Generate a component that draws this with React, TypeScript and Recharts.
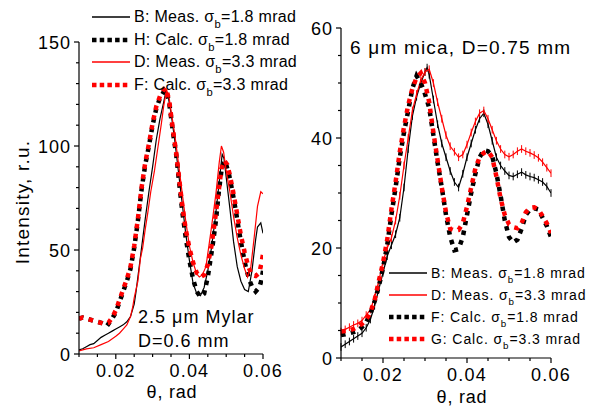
import { LineChart, Line, XAxis, YAxis, Legend, ErrorBar } from "recharts";

const FONT = "'Liberation Sans', Arial, sans-serif";

// theta (rad), intensity (r.u.) -- left panel, 2.5 um Mylar
const LEFT_B_MEAS: [number, number][] = [
  [0.01, 2], [0.011, 2.5], [0.012, 3.5], [0.013, 4.5], [0.014, 5], [0.015, 6.5], [0.016, 8], [0.017, 9],
  [0.018, 10], [0.019, 11], [0.02, 12], [0.021, 13], [0.022, 14], [0.023, 15.5], [0.024, 18], [0.025, 24],
  [0.0255, 30], [0.026, 37], [0.0265, 44], [0.027, 51], [0.0275, 58], [0.028, 65], [0.029, 78], [0.03, 90],
  [0.031, 103], [0.032, 113], [0.033, 121], [0.0336, 126], [0.0342, 124], [0.035, 116], [0.036, 103],
  [0.037, 88], [0.038, 73], [0.039, 58], [0.04, 45], [0.041, 34], [0.042, 29], [0.043, 28], [0.044, 32],
  [0.045, 40], [0.046, 51], [0.047, 65], [0.048, 81], [0.0489, 96], [0.0494, 94], [0.05, 85], [0.051, 70],
  [0.052, 54], [0.053, 42], [0.054, 35], [0.055, 31], [0.056, 30], [0.057, 40], [0.058, 55], [0.0585, 61],
  [0.0594, 63], [0.06, 58],
];
const LEFT_H_CALC: [number, number][] = [
  [0.01, 17], [0.011, 17.5], [0.012, 17], [0.013, 16.5], [0.014, 16], [0.015, 15.5], [0.016, 15], [0.017, 14],
  [0.0176, 13.5], [0.018, 14.5], [0.019, 17], [0.02, 20], [0.021, 25], [0.022, 30], [0.023, 35], [0.024, 41],
  [0.025, 51], [0.026, 64], [0.027, 79], [0.028, 91], [0.029, 100], [0.03, 110], [0.031, 118], [0.032, 123],
  [0.033, 126], [0.0336, 127], [0.0345, 121], [0.0355, 107], [0.0364, 96], [0.0373, 81], [0.0381, 68],
  [0.039, 56], [0.04, 45], [0.041, 36], [0.042, 30], [0.043, 27.5], [0.044, 29], [0.045, 37], [0.0463, 52],
  [0.0472, 64], [0.048, 78], [0.0487, 88], [0.0495, 93], [0.05, 91], [0.0508, 86], [0.0517, 78], [0.0526, 69],
  [0.0535, 59], [0.0544, 50], [0.0553, 42], [0.0562, 36], [0.0571, 32], [0.058, 30], [0.059, 32],
  [0.0595, 35], [0.06, 40],
];
const LEFT_D_MEAS: [number, number][] = [
  [0.01, 1.5], [0.012, 2.5], [0.014, 3], [0.016, 4.5], [0.018, 6], [0.02, 8.5], [0.021, 10], [0.022, 12],
  [0.023, 14], [0.024, 18], [0.0246, 22.6], [0.025, 27], [0.026, 35], [0.0267, 46], [0.0273, 51], [0.028, 60],
  [0.0287, 68], [0.0295, 78], [0.0305, 88], [0.0315, 100], [0.0324, 111], [0.033, 119], [0.0338, 127],
  [0.0345, 123], [0.035, 117], [0.036, 106], [0.037, 92], [0.038, 78], [0.039, 64], [0.04, 52], [0.041, 44],
  [0.042, 38.5], [0.0427, 37], [0.0435, 38], [0.0445, 42], [0.0459, 59.6], [0.0472, 77], [0.0481, 92],
  [0.0487, 100], [0.0493, 97], [0.05, 88], [0.051, 78], [0.052, 66], [0.053, 56], [0.054, 47.5], [0.055, 41],
  [0.0558, 37], [0.0567, 42], [0.0576, 56], [0.0585, 71], [0.0594, 78], [0.06, 77],
];
const LEFT_F_CALC: [number, number][] = [
  [0.01, 17], [0.011, 17.5], [0.012, 17], [0.013, 16.5], [0.014, 16], [0.015, 15.5], [0.016, 15], [0.017, 14.5],
  [0.018, 15], [0.019, 17.5], [0.02, 21], [0.021, 26], [0.022, 31], [0.023, 36], [0.024, 42], [0.025, 52],
  [0.026, 65], [0.027, 80], [0.028, 92], [0.029, 101], [0.03, 111], [0.031, 119], [0.032, 124], [0.033, 127],
  [0.0336, 128], [0.0345, 122], [0.0355, 108], [0.0364, 97], [0.0373, 83], [0.0381, 71], [0.039, 60],
  [0.04, 51], [0.041, 44], [0.042, 39], [0.043, 37], [0.044, 38], [0.045, 43], [0.046, 52], [0.047, 65],
  [0.048, 79], [0.0487, 89], [0.0495, 93], [0.0503, 91], [0.051, 86], [0.052, 77], [0.053, 67], [0.054, 57],
  [0.055, 49], [0.056, 42], [0.057, 38], [0.058, 37.5], [0.059, 39], [0.0595, 43], [0.06, 48],
];

// right panel, 6 um mica
const RIGHT_B_MEAS: [number, number][] = [
  [0.01, 2], [0.011, 2.5], [0.012, 3], [0.013, 3.5], [0.014, 4], [0.015, 4.5], [0.016, 5.5], [0.017, 7],
  [0.018, 9.5], [0.019, 12.5], [0.02, 15.5], [0.021, 18.5], [0.022, 20.5], [0.023, 22.5], [0.024, 25.5],
  [0.025, 31], [0.026, 38], [0.027, 44], [0.028, 47.5], [0.029, 50], [0.03, 52], [0.0305, 52.8], [0.031, 51.5],
  [0.032, 47], [0.033, 42.5], [0.034, 39], [0.035, 36.5], [0.036, 34], [0.037, 32], [0.038, 31], [0.039, 33.5],
  [0.04, 36.5], [0.041, 39], [0.042, 41.5], [0.043, 43.5], [0.044, 44.5], [0.045, 42.5], [0.046, 39.5],
  [0.047, 36.5], [0.048, 35], [0.049, 34], [0.05, 33.2], [0.051, 33], [0.052, 33.4], [0.053, 33.8],
  [0.054, 33.3], [0.055, 33], [0.056, 32.8], [0.057, 32.4], [0.058, 32], [0.059, 31.2], [0.06, 30],
];
const RIGHT_D_MEAS: [number, number][] = [
  [0.01, 4.8], [0.011, 5.2], [0.012, 5.6], [0.013, 6], [0.014, 6.3], [0.015, 6.8], [0.016, 7.8], [0.017, 8.8],
  [0.018, 11], [0.019, 14], [0.02, 17.5], [0.021, 20], [0.022, 21.8], [0.023, 25], [0.024, 29.5], [0.025, 35],
  [0.026, 40], [0.027, 45], [0.028, 48], [0.029, 50.5], [0.03, 52], [0.031, 52.5], [0.032, 50], [0.033, 46.5],
  [0.034, 43.5], [0.035, 40.5], [0.036, 38.5], [0.037, 37.5], [0.038, 36.5], [0.039, 37], [0.04, 38.8],
  [0.041, 41], [0.042, 43], [0.043, 44.5], [0.044, 45], [0.045, 43.5], [0.046, 41.5], [0.047, 39.5],
  [0.048, 38], [0.049, 37], [0.05, 36.6], [0.051, 37], [0.052, 37.6], [0.053, 38], [0.054, 37.6],
  [0.055, 37.3], [0.056, 36.9], [0.057, 36.4], [0.058, 35.6], [0.059, 34.6], [0.06, 33.6],
];
const RIGHT_F_CALC: [number, number][] = [
  [0.01, 4.2], [0.011, 4.3], [0.012, 4.5], [0.013, 4.7], [0.014, 5], [0.015, 5.6], [0.016, 6.5], [0.017, 8],
  [0.018, 10.3], [0.019, 13], [0.02, 16.3], [0.021, 20.5], [0.022, 26], [0.023, 31], [0.024, 36.5], [0.025, 41],
  [0.026, 45], [0.027, 49], [0.028, 51.3], [0.029, 50], [0.03, 48], [0.031, 45.5], [0.032, 40.5], [0.033, 35.5],
  [0.034, 31], [0.035, 26], [0.036, 22], [0.037, 19.6], [0.038, 19.8], [0.039, 22], [0.04, 26], [0.041, 30],
  [0.042, 33.5], [0.043, 36.5], [0.044, 37.8], [0.045, 37.6], [0.046, 36.7], [0.047, 33.6], [0.048, 29.5],
  [0.049, 25], [0.05, 22], [0.051, 21], [0.052, 21.5], [0.053, 23.5], [0.054, 26], [0.055, 27], [0.056, 27.2],
  [0.057, 27], [0.058, 25.5], [0.059, 24], [0.06, 22],
];
const RIGHT_G_CALC: [number, number][] = [
  [0.01, 4.8], [0.011, 4.9], [0.012, 5], [0.013, 5.3], [0.014, 5.7], [0.015, 6.2], [0.016, 7], [0.017, 8.3],
  [0.018, 10.5], [0.019, 14], [0.02, 17.3], [0.021, 21.5], [0.022, 27], [0.023, 32], [0.024, 37.5], [0.025, 42],
  [0.026, 46], [0.027, 49], [0.028, 51], [0.029, 51.8], [0.03, 50], [0.031, 46.5], [0.032, 41], [0.033, 36],
  [0.034, 31], [0.035, 26.5], [0.036, 23.5], [0.037, 23.2], [0.038, 23.3], [0.039, 24.5], [0.04, 27.5],
  [0.041, 31], [0.042, 34.5], [0.043, 36.5], [0.044, 37.3], [0.045, 37.6], [0.046, 36.5], [0.047, 33],
  [0.048, 29], [0.049, 26], [0.05, 24.3], [0.051, 23.8], [0.052, 23.6], [0.053, 24.5], [0.054, 26.5],
  [0.055, 27.3], [0.056, 27.4], [0.057, 27], [0.058, 25.8], [0.059, 24.5], [0.06, 22.7],
];

const X_TICKS = [0.01, 0.015, 0.02, 0.025, 0.03, 0.035, 0.04, 0.045, 0.05, 0.055, 0.06];
const X_LABELS = [0.02, 0.04, 0.06];
const LEFT_Y_TICKS = [0, 10, 20, 30, 40, 50, 60, 70, 80, 90, 100, 110, 120, 130, 140, 150];
const LEFT_Y_LABELS = [0, 50, 100, 150];
const RIGHT_Y_TICKS = [0, 5, 10, 15, 20, 25, 30, 35, 40, 45, 50, 55, 60];
const RIGHT_Y_LABELS = [0, 20, 40, 60];

const MEAS_ERR = 0.7; // half height of the little error bars on the mica curves

type Series = { key: string; data: [number, number][]; color: string; dotted: boolean; pre: string; post: string };

const LEFT_SERIES: Series[] = [
  { key: "B", data: LEFT_B_MEAS, color: "#000", dotted: false, pre: "B: Meas. σ", post: "=1.8 mrad" },
  { key: "H", data: LEFT_H_CALC, color: "#000", dotted: true, pre: "H: Calc. σ", post: "=1.8 mrad" },
  { key: "D", data: LEFT_D_MEAS, color: "#f00", dotted: false, pre: "D: Meas. σ", post: "=3.3 mrad" },
  { key: "F", data: LEFT_F_CALC, color: "#f00", dotted: true, pre: "F: Calc. σ", post: "=3.3 mrad" },
];
const RIGHT_SERIES: Series[] = [
  { key: "B", data: RIGHT_B_MEAS, color: "#000", dotted: false, pre: "B: Meas. σ", post: "=1.8 mrad" },
  { key: "D", data: RIGHT_D_MEAS, color: "#f00", dotted: false, pre: "D: Meas. σ", post: "=3.3 mrad" },
  { key: "F", data: RIGHT_F_CALC, color: "#000", dotted: true, pre: "F: Calc. σ", post: "=1.8 mrad" },
  { key: "G", data: RIGHT_G_CALC, color: "#f00", dotted: true, pre: "G: Calc. σ", post: "=3.3 mrad" },
];

const toPoints = (arr: [number, number][]) => arr.map(([t, v]) => ({ t, v }));
const has = (list: number[], v: number) => list.some((m) => Math.abs(m - v) < 1e-9);

const makeXTick = (labelDy: number) => (props: any) => {
  const { x, y, payload } = props;
  const major = has(X_LABELS, payload.value);
  return (
    <g>
      <line x1={x} x2={x} y1={y} y2={y + (major ? 5 : 3)} stroke="#000" strokeWidth={1.2} />
      {major && (
        <text x={x} y={y + labelDy} textAnchor="middle" fontFamily={FONT} fontSize={18} letterSpacing={1.2} fill="#000">
          {payload.value.toFixed(2)}
        </text>
      )}
    </g>
  );
};

const makeYTick = (labels: number[]) => (props: any) => {
  const { x, y, payload } = props;
  const major = has(labels, payload.value);
  return (
    <g>
      <line x1={x} x2={x - (major ? 5 : 3)} y1={y} y2={y} stroke="#000" strokeWidth={1.2} />
      {major && (
        <text x={x - 8} y={y + 6.5} textAnchor="end" fontFamily={FONT} fontSize={18} letterSpacing={1} fill="#000">
          {payload.value}
        </text>
      )}
    </g>
  );
};

function LegendBox({ items, fontSize, spacing, rowH, sample }: { items: Series[]; fontSize: number; spacing: number; rowH: number; sample: number }) {
  return (
    <div style={{ fontFamily: FONT, fontSize, letterSpacing: spacing, color: "#000" }}>
      {items.map((s) => (
        <div key={s.key} style={{ display: "flex", alignItems: "center", height: rowH, whiteSpace: "nowrap" }}>
          <svg width={sample + 4} height={10} style={{ flex: "none" }}>
            <line
              x1={0}
              x2={sample}
              y1={5}
              y2={5}
              stroke={s.color}
              strokeWidth={s.dotted ? 4.5 : 1.3}
              strokeDasharray={s.dotted ? "4.5 3.2" : undefined}
            />
          </svg>
          <span>
            {s.pre}
            <span style={{ fontSize: "0.7em", position: "relative", top: "0.55em" }}>b</span>
            {s.post}
          </span>
        </div>
      ))}
    </div>
  );
}

function Txt({ x, y, size, spacing = 0, anchor = "middle", rotate = false, children }: any) {
  const tx = anchor === "middle" ? "-50%" : "0";
  return (
    <div
      style={{
        position: "absolute",
        left: x,
        top: y,
        transform: `translate(${tx}, -50%)${rotate ? " rotate(-90deg)" : ""}`,
        transformOrigin: rotate ? "50% 50%" : undefined,
        fontFamily: FONT,
        fontSize: size,
        letterSpacing: spacing,
        lineHeight: 1,
        whiteSpace: "nowrap",
        color: "#000",
      }}
    >
      {children}
    </div>
  );
}

function renderLines(series: Series[], withErr: boolean) {
  return series.map((s) => (
    <Line
      key={s.key}
      data={toPoints(s.data)}
      dataKey="v"
      name={s.key}
      type="linear"
      stroke={s.color}
      strokeWidth={s.dotted ? 4.5 : 1.2}
      strokeDasharray={s.dotted ? "4.5 5.5" : undefined}
      dot={false}
      activeDot={false}
      isAnimationActive={false}
    >
      {withErr && !s.dotted && (
        <ErrorBar dataKey={() => MEAS_ERR} width={0} stroke={s.color} strokeWidth={1} direction="y" />
      )}
    </Line>
  ));
}

export default function App() {
  return (
    <div style={{ position: "absolute", left: 0, top: 0, width: 603, height: 413, background: "#fff", overflow: "hidden" }}>
      <div style={{ position: "absolute", left: 0, top: 0 }}>
        <LineChart width={300} height={413} margin={{ top: 42, right: 37, bottom: 0, left: 0 }}>
          <XAxis
            dataKey="t"
            type="number"
            domain={[0.01, 0.06]}
            ticks={X_TICKS}
            interval={0}
            height={59}
            tickSize={0}
            tickMargin={0}
            tickLine={false}
            axisLine={{ stroke: "#000", strokeWidth: 1.2 }}
            tick={makeXTick(23)}
            allowDataOverflow
          />
          <YAxis
            type="number"
            domain={[0, 150]}
            ticks={LEFT_Y_TICKS}
            interval={0}
            width={79}
            tickSize={0}
            tickMargin={0}
            tickLine={false}
            axisLine={{ stroke: "#000", strokeWidth: 1.2 }}
            tick={makeYTick(LEFT_Y_LABELS)}
            allowDataOverflow
          />
          <Legend
            layout="horizontal"
            verticalAlign="middle"
            align="center"
            wrapperStyle={{ left: 92, top: 6, width: 210, height: 92 }}
            content={() => <LegendBox items={LEFT_SERIES} fontSize={16} spacing={0.3} rowH={22.5} sample={38} />}
          />
          {renderLines(LEFT_SERIES, false)}
        </LineChart>
      </div>

      <div style={{ position: "absolute", left: 300, top: 0 }}>
        <LineChart width={303} height={413} margin={{ top: 28, right: 52, bottom: 0, left: 0 }}>
          <XAxis
            dataKey="t"
            type="number"
            domain={[0.01, 0.06]}
            ticks={X_TICKS}
            interval={0}
            height={55}
            tickSize={0}
            tickMargin={0}
            tickLine={false}
            axisLine={{ stroke: "#000", strokeWidth: 1.2 }}
            tick={makeXTick(23)}
            allowDataOverflow
          />
          <YAxis
            type="number"
            domain={[0, 60]}
            ticks={RIGHT_Y_TICKS}
            interval={0}
            width={41}
            tickSize={0}
            tickMargin={0}
            tickLine={false}
            axisLine={{ stroke: "#000", strokeWidth: 1.2 }}
            tick={makeYTick(RIGHT_Y_LABELS)}
            allowDataOverflow
          />
          <Legend
            layout="horizontal"
            verticalAlign="middle"
            align="center"
            wrapperStyle={{ left: 89, top: 262, width: 214, height: 90 }}
            content={() => <LegendBox items={RIGHT_SERIES} fontSize={14} spacing={0.9} rowH={22} sample={38} />}
          />
          {renderLines(RIGHT_SERIES, true)}
        </LineChart>
      </div>

      <Txt x={22} y={202} size={19} spacing={1.2} rotate>
        Intensity, r.u.
      </Txt>
      <Txt x={172} y={392} size={18} spacing={0.8}>
        θ, rad
      </Txt>
      <Txt x={462} y={397} size={18} spacing={0.8}>
        θ, rad
      </Txt>
      <Txt x={138} y={317} size={18} spacing={1} anchor="start">
        2.5 μm Mylar
      </Txt>
      <Txt x={138} y={341} size={18} spacing={1} anchor="start">
        D=0.6 mm
      </Txt>
      <Txt x={350} y={47} size={19} spacing={1.2} anchor="start">
        6 μm mica, D=0.75 mm
      </Txt>
    </div>
  );
}
